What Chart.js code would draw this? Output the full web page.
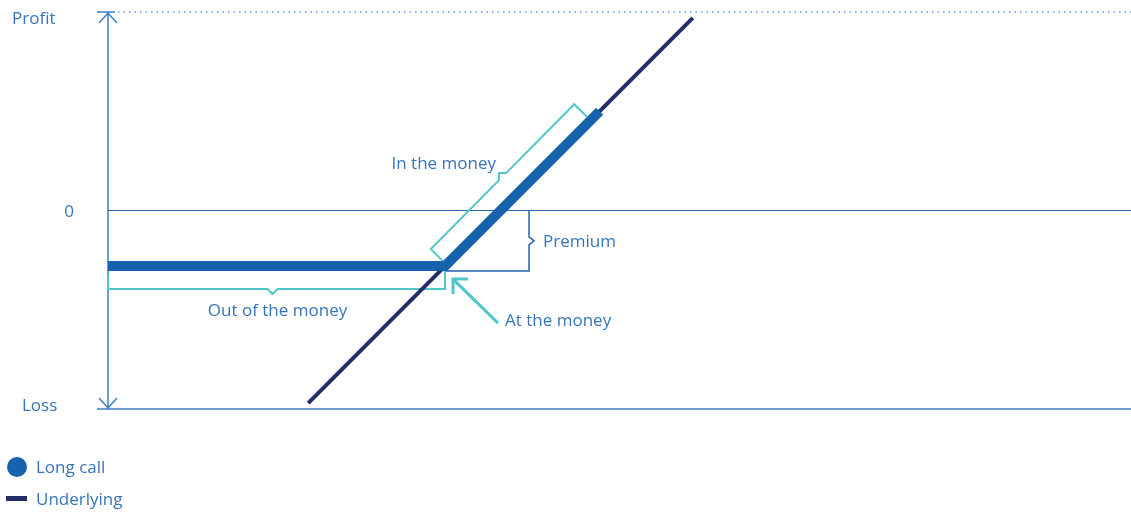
<!DOCTYPE html>
<html>
<head>
<meta charset="utf-8">
<script src="https://cdn.jsdelivr.net/npm/chart.js@4"></script>
<style>
  body { margin: 0; background: #fff; font-family: "Open Sans", sans-serif; }
  #wrap { position: relative; width: 1131px; height: 514px; }
  .leg { position: absolute; left: 0; font-size: 17px; color: #3874ba; }
  .leg span.txt { position: absolute; left: 36px; white-space: nowrap; }
</style>
</head>
<body>
<div id="wrap">
  <canvas id="payoff" width="1131" height="514"></canvas>
  <div id="legend"></div>
</div>
<script>
// payoff values (x = underlying price, y = profit/loss)
const longCallX = [0, 85, 124];
const longCallY = [-14, -14, 25];
const underlyingX = [50.5, 147.5];
const underlyingY = [-48.5, 48.5];
const strike = 85;
const premium = -14;
const axisLabels = ['Profit', '0', 'Loss'];
const axisValues = [50, 0, -50];

const textColor = '#3874ba';
const axisColor = '#3e7ec6';
const teal = '#4fc6c9';

const toPoints = (xs, ys) => xs.map((x, i) => ({ x: x, y: ys[i] }));

const decorations = {
  id: 'decorations',
  beforeDatasetsDraw(chart) {
    const c = chart.ctx;
    const { left, right, top, bottom } = chart.chartArea;
    const xs = chart.scales.x, ys = chart.scales.y;
    const y0 = ys.getPixelForValue(0);
    c.save();
    c.lineCap = 'butt';

    // dotted top line
    c.strokeStyle = '#6a9bd3';
    c.lineWidth = 1.5;
    c.setLineDash([1.5, 4]);
    c.beginPath(); c.moveTo(left + 10, top); c.lineTo(right, top); c.stroke();
    c.setLineDash([]);

    // axis with arrows
    c.strokeStyle = axisColor;
    c.lineWidth = 1.5;
    c.beginPath();
    c.moveTo(left - 11, top); c.lineTo(left + 7, top);
    c.moveTo(left, top); c.lineTo(left, bottom);
    c.moveTo(left - 9, top + 11); c.lineTo(left, top + 1); c.lineTo(left + 9, top + 11);
    c.moveTo(left - 9, bottom - 11); c.lineTo(left, bottom - 1); c.lineTo(left + 9, bottom - 11);
    c.moveTo(left - 11, bottom); c.lineTo(right, bottom);
    c.stroke();

    // zero line
    c.lineWidth = 1.2;
    c.strokeStyle = '#2a66ad';
    c.beginPath(); c.moveTo(left, y0); c.lineTo(right, y0); c.stroke();

    const sx = xs.getPixelForValue(strike);
    const py = ys.getPixelForValue(premium);

    // premium bracket
    const bx = sx + 84;
    const mid = (y0 + py + 5) / 2;
    c.strokeStyle = '#2263ad';
    c.lineWidth = 1.5;
    c.beginPath();
    c.moveTo(sx, py + 5); c.lineTo(bx, py + 5); c.lineTo(bx, mid + 4);
    c.lineTo(bx + 5, mid); c.lineTo(bx, mid - 4); c.lineTo(bx, y0);
    c.stroke();

    // out of the money bracket
    const yT = py + 8, yB = py + 23;
    const nx = (left + sx) / 2 - 4;
    c.strokeStyle = teal;
    c.lineWidth = 2;
    c.beginPath();
    c.moveTo(left, yT); c.lineTo(left, yB); c.lineTo(nx - 5, yB);
    c.lineTo(nx, yB + 5); c.lineTo(nx + 5, yB); c.lineTo(sx, yB); c.lineTo(sx, yT - 3);
    c.stroke();

    // in the money bracket, parallel to the rising leg
    const ex = xs.getPixelForValue(longCallX[2]);
    const ey = ys.getPixelForValue(longCallY[2]);
    const len = Math.hypot(ex - sx, ey - py);
    const ux = (ex - sx) / len, uy = (ey - py) / len;
    const nX = uy, nY = -ux;
    const ax = sx + nX * 22 + ux * 2, ay = py + nY * 22 + uy * 2;
    const bX = ex + nX * 23 - ux * 13, bY = ey + nY * 23 - uy * 13;
    const mx = (ax + bX) / 2, my = (ay + bY) / 2;
    c.beginPath();
    c.moveTo(ax - nX * 17, ay - nY * 17);
    c.lineTo(ax, ay);
    c.lineTo(mx - ux * 5, my - uy * 5);
    c.lineTo(mx + nX * 5, my + nY * 5);
    c.lineTo(mx + ux * 5, my + uy * 5);
    c.lineTo(bX, bY);
    c.lineTo(bX - nX * 18, bY - nY * 18);
    c.stroke();
    chart.$itm = { x: mx + nX * 5 - 3, y: my + nY * 5 - 9 };

    // at the money arrow
    const tx = sx + 8, ty = py + 13;
    c.lineWidth = 3;
    c.beginPath();
    c.moveTo(tx + 45, ty + 44); c.lineTo(tx + 1, ty + 1);
    c.moveTo(tx + 15, ty); c.lineTo(tx, ty); c.lineTo(tx, ty + 15);
    c.stroke();
    c.restore();
  },
  afterDatasetsDraw(chart) {
    const c = chart.ctx;
    const { left } = chart.chartArea;
    const xs = chart.scales.x, ys = chart.scales.y;
    const sx = xs.getPixelForValue(strike);
    const py = ys.getPixelForValue(premium);
    const y0 = ys.getPixelForValue(0);
    c.save();
    c.font = '17px "Open Sans"';
    c.fillStyle = textColor;
    c.textBaseline = 'middle';

    // axis labels
    c.textAlign = 'left';
    c.fillText(axisLabels[0], 12, ys.getPixelForValue(axisValues[0]) + 7);
    c.textAlign = 'center';
    c.fillText(axisLabels[1], 69, ys.getPixelForValue(axisValues[1]) + 2);
    c.textAlign = 'left';
    c.fillText(axisLabels[2], 22, ys.getPixelForValue(axisValues[2]) - 3);

    // annotation texts
    c.fillText('Premium', sx + 98, (y0 + py + 5) / 2 + 1);
    c.fillText('At the money', sx + 60, py + 55);
    c.textAlign = 'center';
    c.fillText('Out of the money', (left + sx) / 2 + 1, py + 45);
    c.textAlign = 'right';
    c.fillText('In the money', chart.$itm.x, chart.$itm.y);
    c.restore();
  }
};

const chart = new Chart(document.getElementById('payoff'), {
  type: 'line',
  data: {
    datasets: [{
      label: 'Long call',
      data: toPoints(longCallX, longCallY),
      borderColor: '#1762ac',
      backgroundColor: '#1762ac',
      borderWidth: 10,
      borderJoinStyle: 'miter',
      borderCapStyle: 'butt',
      pointRadius: 0,
      tension: 0
    }, {
      label: 'Underlying',
      data: toPoints(underlyingX, underlyingY),
      borderColor: '#252c6a',
      backgroundColor: '#252c6a',
      borderWidth: 4,
      borderCapStyle: 'butt',
      pointRadius: 0,
      tension: 0
    }]
  },
  options: {
    responsive: false,
    animation: false,
    devicePixelRatio: 1,
    layout: { padding: { left: 108, right: 0, top: 12, bottom: 105 } },
    scales: {
      x: { type: 'linear', min: 0, max: 258, display: false },
      y: { type: 'linear', min: -50, max: 50, display: false }
    },
    plugins: {
      legend: { display: false },
      tooltip: { enabled: false }
    }
  },
  plugins: [decorations]
});

// legend below the chart
const legend = document.getElementById('legend');
chart.data.datasets.forEach((ds, i) => {
  const row = document.createElement('div');
  row.className = 'leg';
  row.style.top = (i === 0 ? 455 : 487) + 'px';
  const mark = document.createElement('div');
  mark.style.position = 'absolute';
  mark.style.background = ds.borderColor;
  if (i === 0) {
    mark.style.left = '7px'; mark.style.top = '2px';
    mark.style.width = '20px'; mark.style.height = '20px';
    mark.style.borderRadius = '50%';
  } else {
    mark.style.left = '6px'; mark.style.top = '9px';
    mark.style.width = '21px'; mark.style.height = '5px';
  }
  const txt = document.createElement('span');
  txt.className = 'txt';
  txt.textContent = ds.label;
  row.appendChild(mark);
  row.appendChild(txt);
  legend.appendChild(row);
});
</script>
</body>
</html>
